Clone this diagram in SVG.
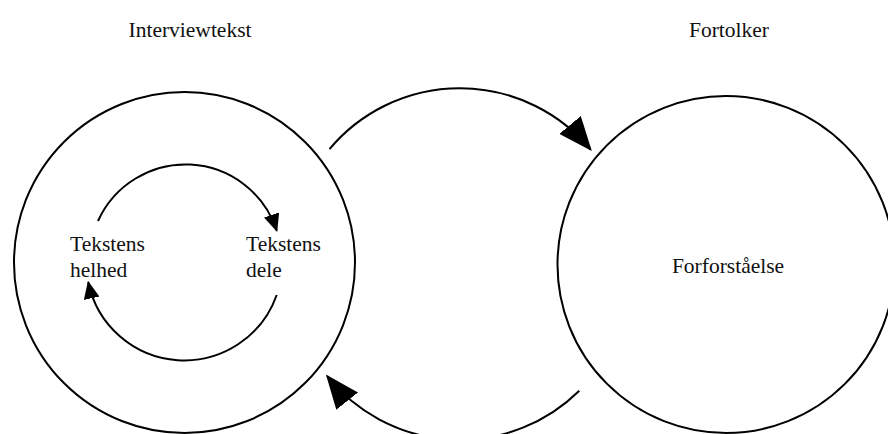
<svg xmlns="http://www.w3.org/2000/svg" width="888" height="434" viewBox="0 0 888 434">
<style>
  .ring { fill: none; stroke: #000; stroke-width: 2; }
  .conn { fill: none; stroke: #000; stroke-width: 2; }
  .lbl { font-family: "Liberation Serif", "Times New Roman", serif; font-size: 21.5px; fill: #111; }
  .mid { text-anchor: middle; }
</style>
<defs>
  <marker id="bigArrow" markerUnits="userSpaceOnUse" markerWidth="34" markerHeight="28" viewBox="0 0 33 27" refX="31" refY="13.5" orient="auto">
    <path d="M0,0 L33,13.5 L0,27 Z" fill="#000"/>
  </marker>
  <marker id="smallArrow" markerUnits="userSpaceOnUse" markerWidth="18" markerHeight="16" viewBox="0 0 17 15" refX="15.5" refY="7.5" orient="auto">
    <path d="M0,0 L17,7.5 L0,15 Z" fill="#000"/>
  </marker>
</defs>
<rect width="888" height="434" fill="#fff"/>
<g id="title-interviewtekst"><text class="lbl mid" x="190" y="37">Interviewtekst</text></g>
<g id="title-fortolker"><text class="lbl mid" x="729" y="37">Fortolker</text></g>
<g id="node-interviewtekst">
  <circle class="ring" cx="184.5" cy="262.5" r="170.5"/>
</g>
<g id="node-tekstens-helhed">
  <text class="lbl" x="70" y="251">Tekstens</text>
  <text class="lbl" x="70" y="277">helhed</text>
</g>
<g id="node-tekstens-dele">
  <text class="lbl" x="246" y="251">Tekstens</text>
  <text class="lbl" x="246" y="277">dele</text>
</g>
<g id="node-fortolker">
  <circle class="ring" cx="726" cy="264.5" r="168.5"/>
  <text class="lbl mid" x="728" y="273">Forforståelse</text>
</g>
<g id="connectors">
  <path class="conn" d="M329.5,149.1 A170,170 0 0 1 590.5,149.5" marker-end="url(#bigArrow)"/>
  <path class="conn" d="M579.3,390.7 A170,170 0 0 1 327.2,376.2" marker-end="url(#bigArrow)"/>
  <path class="conn" d="M98,221 A96,96 0 0 1 276.7,230.5" marker-end="url(#smallArrow)"/>
  <path class="conn" d="M276.7,295 A98,98 0 0 1 88.3,282.2" marker-end="url(#smallArrow)"/>
</g>
</svg>
